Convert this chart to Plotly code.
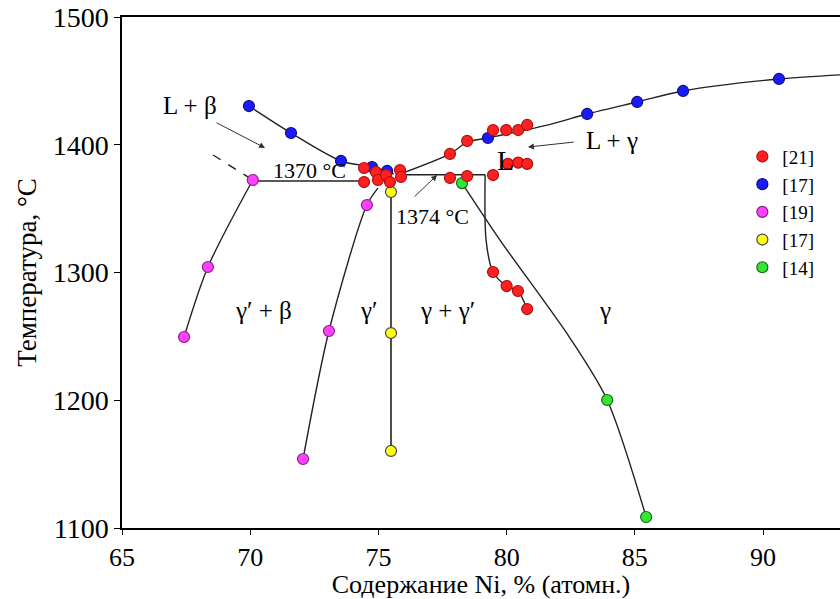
import plotly.graph_objects as go

# ---------------- data ----------------
# [21] red points (x: Ni at.%, y: temperature °C)
red_x = [74.44, 74.44, 74.90, 74.98, 75.30, 75.45, 75.84, 75.88,
         77.79, 78.46, 79.47, 79.98, 80.45, 80.80,
         77.79, 78.46, 79.47, 80.05, 80.45, 80.80,
         79.47, 80.00, 80.44, 80.80]
red_y = [1381.8, 1370.8, 1378.7, 1372.4, 1376.3, 1370.8, 1380.2, 1374.8,
         1392.8, 1403.0, 1411.5, 1411.5, 1411.5, 1415.5,
         1374.0, 1375.5, 1376.3, 1385.0, 1386.0, 1385.0,
         1300.4, 1289.4, 1285.5, 1271.4]
# [17] blue points
blue_x = [69.95, 71.59, 73.54, 74.75, 75.34, 79.27, 83.14, 85.09, 86.88, 90.62]
blue_y = [1430.3, 1409.2, 1387.3, 1382.6, 1379.5, 1405.3, 1424.1, 1433.5, 1442.1, 1451.5]
# [19] magenta points
pink_x = [70.10, 68.35, 67.42, 74.55, 73.07, 72.06]
pink_y = [1372.4, 1304.3, 1249.5, 1352.8, 1254.2, 1154.0]
# [17] yellow points
yel_x = [75.49, 75.49, 75.49]
yel_y = [1363.0, 1252.6, 1160.3]
# [14] green points
grn_x = [78.26, 83.92, 85.44]
grn_y = [1370.0, 1200.2, 1108.6]

# phase boundary curves
liq_left_x = [69.95, 71.59, 73.54, 74.75, 75.30, 75.60]
liq_left_y = [1430.3, 1409.2, 1387.3, 1382.6, 1379.5, 1377.0]
liq_right_x = [75.84, 77.79, 78.46, 79.27, 81.70, 83.14, 85.09, 86.88, 90.62, 94.0]
liq_right_y = [1377.0, 1392.8, 1402.0, 1405.3, 1416.0, 1424.1, 1433.5, 1442.1, 1451.5, 1455.8]
eut_x = [70.10, 74.44]
eut_y = [1371.6, 1371.6]
per_x = [75.88, 79.16]
per_y = [1376.5, 1376.5]
solv_x = [79.16, 79.20, 79.47, 80.00, 80.44, 80.80]
solv_y = [1376.5, 1325.0, 1300.4, 1289.4, 1285.5, 1271.4]
gam_x = [78.26, 79.74, 82.47, 83.92, 85.44]
gam_y = [1370.0, 1325.4, 1248.7, 1200.2, 1108.6]
yel_line_x = [75.49, 75.49]
yel_line_y = [1372.0, 1160.3]
beta_x = [70.10, 68.35, 67.42]
beta_y = [1372.4, 1304.3, 1249.5]
beta_dash_x = [68.55, 70.10]
beta_dash_y = [1392.0, 1372.4]
gp_x = [74.98, 74.55, 73.07, 72.06]
gp_y = [1366.0, 1352.8, 1254.2, 1154.0]

legend_names = ["[21]", "[17]", "[19]", "[17]", "[14]"]

# ---------------- figure ----------------
SERIF = "Liberation Serif"
fig = go.Figure()

def curve(x, y, dash="solid", shape="spline", w=1.4):
    fig.add_trace(go.Scatter(x=x, y=y, mode="lines", showlegend=False,
                             hoverinfo="skip",
                             line=dict(color="#222222", width=w, dash=dash,
                                       shape=shape, smoothing=0.8)))

curve(liq_left_x, liq_left_y)
curve(liq_right_x, liq_right_y)
curve(eut_x, eut_y, shape="linear", w=1.6)
curve(per_x, per_y, shape="linear", w=1.6)
curve(solv_x, solv_y)
curve(gam_x, gam_y)
curve(yel_line_x, yel_line_y, shape="linear", w=1.6)
curve(beta_x, beta_y)
curve(beta_dash_x, beta_dash_y, dash="dash", shape="linear")
curve(gp_x, gp_y)

def pts(x, y, fill, edge, name):
    fig.add_trace(go.Scatter(x=x, y=y, mode="markers", name=name,
                             marker=dict(size=11, color=fill,
                                         line=dict(color=edge, width=1.2))))

pts(grn_x, grn_y, "#33e633", "#1a661a", legend_names[4])
pts(yel_x, yel_y, "#ffff10", "#444444", legend_names[3])
pts(pink_x, pink_y, "#ff40ff", "#882288", legend_names[2])
pts(blue_x, blue_y, "#1a1aff", "#10107a", legend_names[1])
pts(red_x, red_y, "#ff2020", "#b01010", legend_names[0])

# annotations
def txt(x, y, s, size=25):
    fig.add_annotation(x=x, y=y, text=s, showarrow=False,
                       font=dict(family=SERIF, size=size, color="black"))

txt(67.65, 1431, "L + β")
txt(72.33, 1380, "1370 °C", 22)
txt(77.09, 1344, "1374 °C", 22)
txt(84.11, 1403.7, "L + γ")
txt(79.94, 1388, "L", 28)
txt(70.5, 1270, "γ′ + β")
txt(74.63, 1270, "γ′")
txt(77.68, 1270, "γ + γ′")
txt(83.84, 1270, "γ")

def arrow(x0, y0, x1, y1):
    fig.add_annotation(x=x1, y=y1, ax=x0, ay=y0, axref="x", ayref="y",
                       xref="x", yref="y", text="", showarrow=True,
                       arrowhead=2, arrowsize=1.2, arrowwidth=1,
                       arrowcolor="#333333")

arrow(68.63, 1417.8, 70.58, 1397.5)
arrow(76.35, 1358.3, 77.29, 1376.3)
arrow(82.67, 1402.2, 80.83, 1398.2)

fig.update_layout(
    width=840, height=599,
    margin=dict(l=122, r=0, t=17, b=71),
    paper_bgcolor="white", plot_bgcolor="white",
    font=dict(family=SERIF, color="black"),
    legend=dict(x=0.864, y=0.764, xanchor="left", yanchor="top",
                traceorder="reversed",
                bgcolor="rgba(0,0,0,0)", font=dict(family=SERIF, size=19),
                itemwidth=30),
    xaxis=dict(range=[65, 93], tickvals=[65, 70, 75, 80, 85, 90],
               showgrid=False, zeroline=False, showline=True, mirror=True,
               linecolor="black", linewidth=1.5, ticks="outside", ticklen=5,
               tickcolor="black", tickfont=dict(family=SERIF, size=26),
               title=dict(text="Содержание Ni, % (атомн.)",
                          font=dict(family=SERIF, size=26), standoff=0)),
    yaxis=dict(range=[1100, 1500], tickvals=[1100, 1200, 1300, 1400, 1500],
               showgrid=False, zeroline=False, showline=True,
               linecolor="black", linewidth=1.5, ticks="outside", ticklen=6,
               tickcolor="black", tickfont=dict(family=SERIF, size=28),
               title=dict(text="Температура, °C",
                          font=dict(family=SERIF, size=27), standoff=8)),
)

fig.write_html("out.html")
